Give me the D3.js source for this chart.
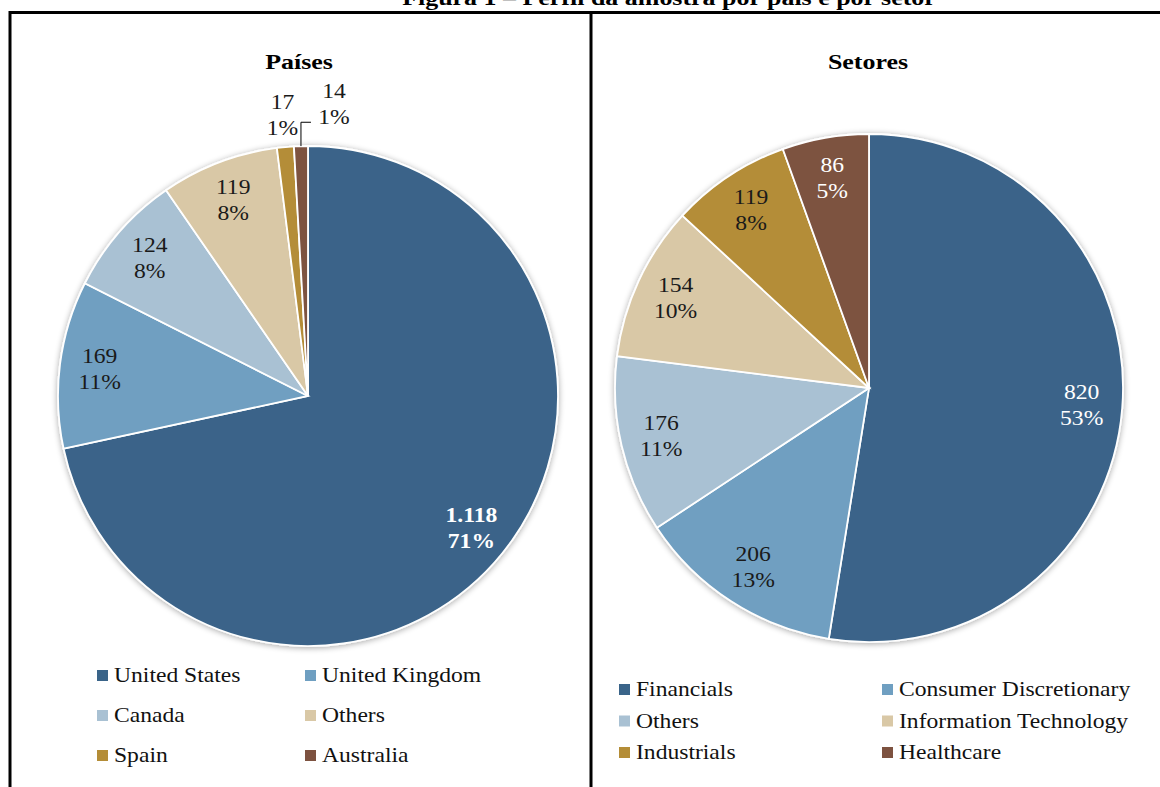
<!DOCTYPE html>
<html>
<head>
<meta charset="utf-8">
<script src="https://cdn.jsdelivr.net/npm/d3@7"></script>
<style>
  body { margin: 0; background: #fff; }
  svg { display: block; font-family: "Liberation Serif", "DejaVu Serif", serif; }
</style>
</head>
<body>
<svg id="chart" width="1160" height="787"></svg>
<script>
// data
const countryNames = ['United States', 'United Kingdom', 'Canada', 'Others', 'Spain', 'Australia'];
const countryValues = [1118, 169, 124, 119, 17, 14];
const countryPct = ['71%', '11%', '8%', '8%', '1%', '1%'];

const sectorNames = ['Financials', 'Consumer Discretionary', 'Others', 'Information Technology', 'Industrials', 'Healthcare'];
const sectorValues = [820, 206, 176, 154, 119, 86];
const sectorPct = ['53%', '13%', '11%', '10%', '8%', '5%'];

const colors = ['#3a6489', '#6f9fc1', '#a9c1d3', '#d9c8a6', '#b48d37', '#7d5240'];

const SX = 1.18; // the scanned figure's type is a bit wider than Liberation Serif

const svg = d3.select('#chart');
const fmt = d3.formatLocale({ decimal: ',', thousands: '.', grouping: [3], currency: ['', ''] }).format(',d');

// text stretched horizontally around its anchor point
function stext(parent, x, y, str, size, anchor) {
  return parent.append('text')
    .attr('transform', `translate(${x},${y}) scale(${SX},1)`)
    .attr('text-anchor', anchor || 'start')
    .attr('font-size', size)
    .text(str);
}

// soft shadow like the original
const defs = svg.append('defs');
const f = defs.append('filter').attr('id', 'shadow').attr('x', '-10%').attr('y', '-10%').attr('width', '120%').attr('height', '120%');
f.append('feGaussianBlur').attr('in', 'SourceAlpha').attr('stdDeviation', 3).attr('result', 'b');
f.append('feOffset').attr('in', 'b').attr('dx', 0).attr('dy', 1).attr('result', 'o');
f.append('feComponentTransfer').attr('in', 'o').attr('result', 's')
  .append('feFuncA').attr('type', 'linear').attr('slope', 0.35);
const fm = f.append('feMerge');
fm.append('feMergeNode').attr('in', 's');
fm.append('feMergeNode').attr('in', 'SourceGraphic');

// frame
svg.append('path')
  .attr('d', 'M10,787 V12.5 H1160 M591,12.5 V787')
  .attr('fill', 'none').attr('stroke', '#000').attr('stroke-width', 3);

stext(svg, 669, 5, 'Figura 1 – Perfil da amostra por país e por setor', 22, 'middle')
  .attr('font-weight', 'bold');

function drawPie(opts) {
  const { names, values, pct, cx, cy, r, title, titleX, legend } = opts;
  const g = svg.append('g').attr('transform', `translate(${cx},${cy})`);
  const pie = d3.pie().sort(null).value(d => d)(values);
  const arc = d3.arc().innerRadius(0).outerRadius(r);
  const labelArc = d3.arc().innerRadius(r * 0.84).outerRadius(r * 0.84);
  const outArc = d3.arc().innerRadius(r * 1.13).outerRadius(r * 1.13);

  g.append('g').attr('filter', 'url(#shadow)')
    .selectAll('path').data(pie).enter().append('path')
    .attr('d', arc)
    .attr('fill', (d, i) => colors[i])
    .attr('stroke', '#fff').attr('stroke-width', 1.8);

  pie.forEach((d, i) => {
    const small = (d.endAngle - d.startAngle) < 0.15;
    let [x, y] = small ? outArc.centroid(d) : labelArc.centroid(d);
    if (small && opts.leader && i === values.length - 1) {
      // leader line for the smallest slice
      const a = (d.startAngle + d.endAngle) / 2;
      const px = Math.sin(a) * r, py = -Math.cos(a) * r;
      const ly = -r * 1.095;
      g.append('path')
        .attr('d', `M${px},${py} V${ly} H${px + 10}`)
        .attr('fill', 'none').attr('stroke', '#000').attr('stroke-width', 1);
      x = px + 33; y = -r * 1.17;
    }
    const white = opts.whiteLabels.includes(i);
    const bold = opts.boldLabels.includes(i);
    [[fmt(values[i]), y - 6], [pct[i], y + 20]].forEach(([s, yy]) => {
      stext(g, x, yy, s, 20, 'middle')
        .attr('font-weight', bold ? 'bold' : 'normal')
        .attr('fill', white ? '#fff' : '#1a1a1a');
    });
  });

  stext(svg, titleX, 69, title, 22, 'middle').attr('font-weight', 'bold');

  const lg = svg.append('g');
  names.forEach((n, i) => {
    const col = i % 2, row = Math.floor(i / 2);
    const lx = legend.x[col], ly = legend.y + row * legend.dy;
    lg.append('rect').attr('x', lx).attr('y', ly - 10).attr('width', 11).attr('height', 11).attr('fill', colors[i]);
    stext(lg, lx + 17, ly + 2, n, 20).attr('fill', '#111');
  });
}

drawPie({
  names: countryNames, values: countryValues, pct: countryPct,
  cx: 308, cy: 396, r: 250, title: 'Países', titleX: 299,
  leader: true, whiteLabels: [0], boldLabels: [0],
  legend: { x: [97, 305], y: 680, dy: 40 }
});

drawPie({
  names: sectorNames, values: sectorValues, pct: sectorPct,
  cx: 869, cy: 388, r: 254, title: 'Setores', titleX: 868,
  leader: false, whiteLabels: [0, 5], boldLabels: [],
  legend: { x: [619, 882], y: 694, dy: 31.5 }
});
</script>
</body>
</html>
